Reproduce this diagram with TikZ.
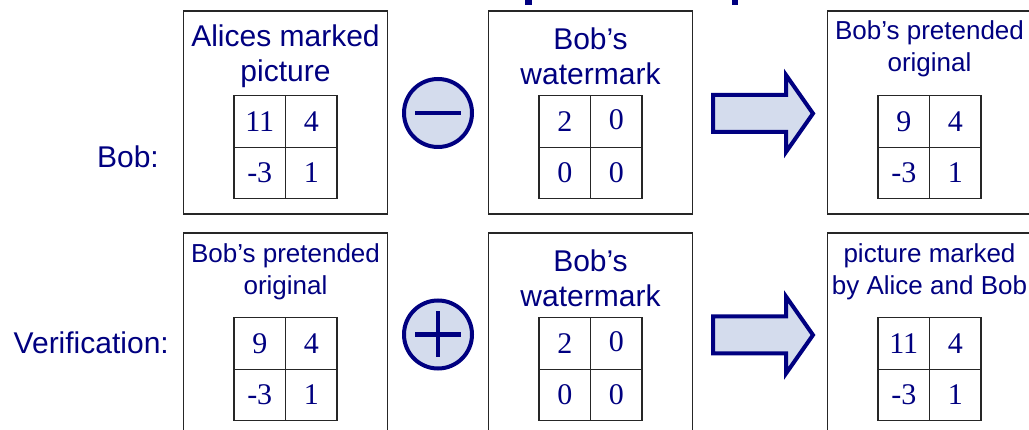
\documentclass[tikz,border=0pt]{standalone}
\usepackage{fontspec}
\setmainfont{Liberation Sans}
\newfontfamily\digitfont{Liberation Serif}
\usetikzlibrary{positioning,calc}
\definecolor{navy}{RGB}{0,0,128}
\definecolor{paleblue}{RGB}{212,220,237}

\begin{document}
\begin{tikzpicture}[x=1pt, y=-1pt,
    panel/.style={draw=black!85, line width=1.2pt, minimum width=204pt,
        minimum height=203pt, inner sep=0pt, outer sep=0pt},
    caption/.style={align=center, text=navy, inner sep=0pt,
        font=\fontsize{30}{35}\selectfont},
    smallcaption/.style={caption, font=\fontsize{26}{32}\selectfont},
    cell/.style={draw=black!85, line width=1.2pt, minimum size=51.5pt,
        inner sep=0pt, outer sep=0pt, text=navy,
        font=\digitfont\fontsize{30}{30}\selectfont},
    opcircle/.style={circle, draw=navy, line width=4pt, fill=paleblue,
        minimum size=68pt, inner sep=0pt},
    opline/.style={draw=navy, line width=4.5pt},
    fatarrow/.style={draw=navy, line width=4pt, fill=paleblue, line join=miter},
    rowlabel/.style={anchor=east, text=navy, inner sep=0pt,
        font=\fontsize{30}{35}\selectfont}]
    \useasboundingbox (0,0) rectangle (1029,430);
    \clip (0,0) rectangle (1029,430);

    % Title (cut off at the top edge)
    \fill[navy] (525,-2) rectangle (532,5);
    \fill[navy] (732,-2) rectangle (738,5);

    % Row labels
    \node[rowlabel] (boblbl) at (159,157) {Bob:};
    \node[rowlabel] (verlbl) at (169,343) {Verification:};

    % Bob: Alices marked picture
    \node[panel] (alice) at (285.5,112.5) {};
    \node[caption] (alicetxt) at ($(alice.north)+(0,45)$) {Alices marked\\picture};
    \node[cell] (a11) at ($(alice.center)+(-25.75,9)$) {11};
    \node[cell, right=0pt of a11] (a12) {4};
    \node[cell, below=0pt of a11] (a21) {-3};
    \node[cell, right=0pt of a21] (a22) {1};

    % minus
    \node[opcircle] (minus) at (438,113) {};
    \draw[opline] ($(minus.center)+(-23,0)$) -- ($(minus.center)+(23,0)$);

    % Bob's watermark
    \node[panel] (wm) at (590.5,112.5) {};
    \node[caption] (wmtxt) at ($(wm.north)+(0,45)$) {Bob’s\\watermark};
    \node[cell] (w11) at ($(wm.center)+(-25.75,9)$) {2};
    \node[cell, right=0pt of w11] (w12) {\raisebox{3pt}{0}};
    \node[cell, below=0pt of w11] (w21) {0};
    \node[cell, right=0pt of w21] (w22) {0};

    % arrow
    \draw[fatarrow, shift={(713,113.5)}] (0,-18.5) -- (73,-18.5) -- (73,-38.5)
        -- (100,0) -- (73,38.5) -- (73,18.5) -- (0,18.5) -- cycle;

    % Bob's pretended original
    \node[panel] (fake) at (929.5,112.5) {};
    \node[smallcaption] (faketxt) at ($(fake.north)+(0,38)$) {Bob’s pretended\\original};
    \node[cell] (f11) at ($(fake.center)+(-25.75,9)$) {9};
    \node[cell, right=0pt of f11] (f12) {4};
    \node[cell, below=0pt of f11] (f21) {-3};
    \node[cell, right=0pt of f21] (f22) {1};

    % Verification: Bob's pretended original
    \node[panel] (orig) at (285.5,334.5) {};
    \node[smallcaption] (origtxt) at ($(orig.north)+(0,39)$) {Bob’s pretended\\original};
    \node[cell] (o11) at ($(orig.center)+(-25.75,9)$) {9};
    \node[cell, right=0pt of o11] (o12) {4};
    \node[cell, below=0pt of o11] (o21) {-3};
    \node[cell, right=0pt of o21] (o22) {1};

    % plus
    \node[opcircle] (plus) at (438,334.5) {};
    \draw[opline] ($(plus.center)+(-23,0)$) -- ($(plus.center)+(23,0)$)
        ($(plus.center)+(0,-23)$) -- ($(plus.center)+(0,23)$);

    % Bob's watermark again
    \node[panel] (wmb) at (590.5,334.5) {};
    \node[caption] (wmbtxt) at ($(wmb.north)+(0,45)$) {Bob’s\\watermark};
    \node[cell] (v11) at ($(wmb.center)+(-25.75,9)$) {2};
    \node[cell, right=0pt of v11] (v12) {\raisebox{3pt}{0}};
    \node[cell, below=0pt of v11] (v21) {0};
    \node[cell, right=0pt of v21] (v22) {0};

    % arrow
    \draw[fatarrow, shift={(713,335)}] (0,-18.5) -- (73,-18.5) -- (73,-38.5)
        -- (100,0) -- (73,38.5) -- (73,18.5) -- (0,18.5) -- cycle;

    % picture marked by Alice and Bob
    \node[panel] (both) at (929.5,334.5) {};
    \node[smallcaption] (bothtxt) at ($(both.north)+(0,39)$) {picture marked\\by Alice and Bob};
    \node[cell] (b11) at ($(both.center)+(-25.75,9)$) {11};
    \node[cell, right=0pt of b11] (b12) {4};
    \node[cell, below=0pt of b11] (b21) {-3};
    \node[cell, right=0pt of b21] (b22) {1};
\end{tikzpicture}
\end{document}
